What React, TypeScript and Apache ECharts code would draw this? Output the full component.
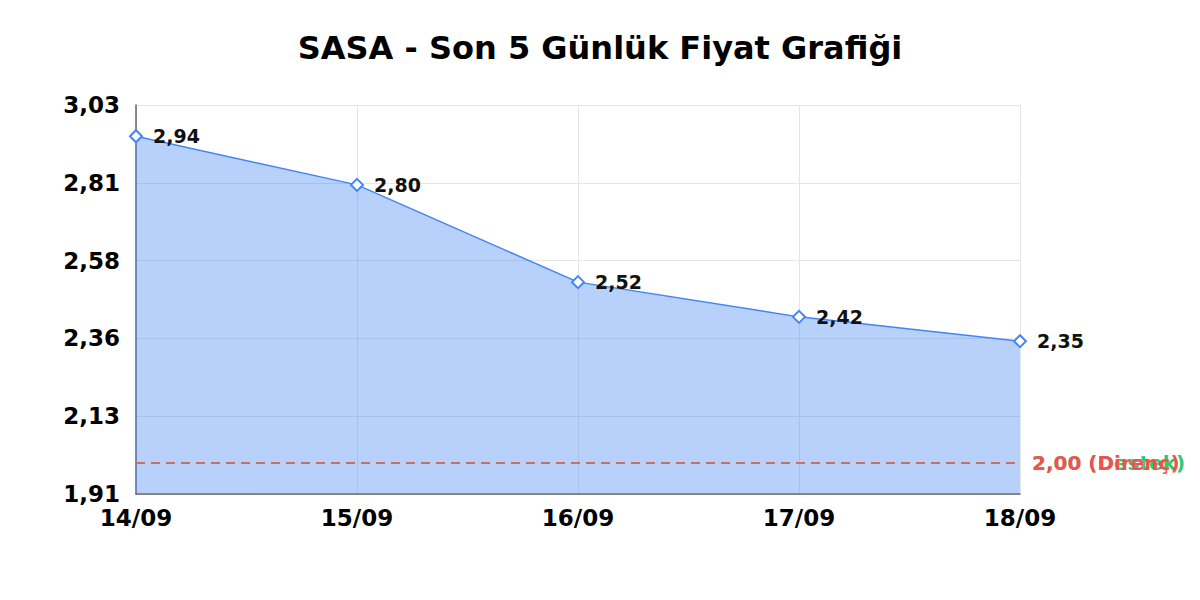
import { useEffect, useRef } from 'react';
import * as echarts from 'echarts';

const dates = ['14/09', '15/09', '16/09', '17/09', '18/09'];
const prices = [2.94, 2.80, 2.52, 2.42, 2.35];
const supportLevel = 2.0;
const resistanceLevel = 2.0;
const yMin = 1.91;
const yMax = 3.03;

const fmt = (v: number) => v.toFixed(2).replace('.', ',');

const App = () => {
  const chartRef = useRef<HTMLDivElement>(null);

  useEffect(() => {
    if (!chartRef.current) return;
    const chart = echarts.init(chartRef.current, undefined, { renderer: 'svg' });

    const font = 'DejaVu Sans';

    chart.setOption({
      animation: false,
      backgroundColor: '#ffffff',
      title: {
        text: 'SASA - Son 5 Günlük Fiyat Grafiği',
        left: 'center',
        top: 27,
        textStyle: { fontFamily: font, fontSize: 32, fontWeight: 'bold', color: '#000' }
      },
      grid: { left: 136, right: 180, top: 105, bottom: 106 },
      xAxis: {
        type: 'category',
        data: dates,
        boundaryGap: false,
        axisLine: { lineStyle: { color: '#666', width: 1.5 } },
        axisTick: { show: false },
        axisLabel: { fontFamily: font, fontSize: 23, fontWeight: 'bold', color: '#000', margin: 12 },
        splitLine: { show: true, lineStyle: { color: '#e6e6e6' } }
      },
      yAxis: {
        type: 'value',
        min: yMin,
        max: yMax,
        interval: (yMax - yMin) / 5,
        axisLine: { show: true, lineStyle: { color: '#666', width: 1.5 } },
        axisTick: { show: false },
        axisLabel: {
          fontFamily: font,
          fontSize: 23,
          fontWeight: 'bold',
          color: '#000',
          margin: 16,
          formatter: (v: number) => fmt(v)
        },
        splitLine: { lineStyle: { color: '#e6e6e6' } }
      },
      series: [
        {
          type: 'line',
          data: prices,
          symbol: 'emptyDiamond',
          symbolSize: 12,
          lineStyle: { color: '#4285f4', width: 1.5 },
          itemStyle: { color: '#4285f4', borderWidth: 2.2 },
          areaStyle: { color: '#4285f4', opacity: 0.38 },
          label: {
            show: true,
            position: 'right',
            distance: 10,
            fontFamily: font,
            fontSize: 19,
            fontWeight: 'bold',
            color: '#111',
            formatter: (p: any) => fmt(p.value)
          },
          markLine: {
            silent: true,
            symbol: 'none',
            data: [
              {
                yAxis: supportLevel,
                lineStyle: { color: '#2ecc71', type: [9, 6], width: 1.5 },
                label: {
                  position: 'end',
                  distance: 12,
                  fontFamily: font,
                  fontSize: 20,
                  fontWeight: 'bold',
                  color: '#2ecc71',
                  formatter: fmt(supportLevel) + ' (Destek)'
                }
              },
              {
                yAxis: resistanceLevel,
                lineStyle: { color: '#ef5350', type: [9, 6], width: 1.5 },
                label: {
                  position: 'end',
                  distance: 12,
                  fontFamily: font,
                  fontSize: 20,
                  fontWeight: 'bold',
                  color: '#ef5350',
                  formatter: fmt(resistanceLevel) + ' (Direnç)'
                }
              }
            ]
          }
        }
      ]
    });

    return () => {
      chart.dispose();
    };
  }, []);

  return (
    <div
      ref={chartRef}
      style={{ position: 'absolute', left: 0, top: 0, width: 1200, height: 600 }}
    />
  );
};

export default App;
